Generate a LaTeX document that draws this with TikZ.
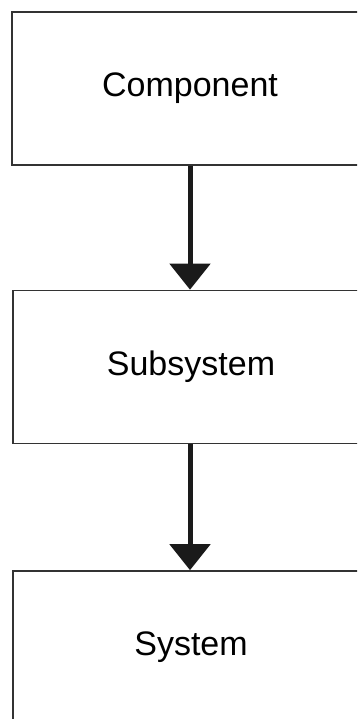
\documentclass[tikz,border=0pt]{standalone}
\usepackage{fontspec}
\setmainfont{Liberation Sans}
\usetikzlibrary{arrows.meta}
\definecolor{boxline}{HTML}{333333}
\definecolor{arrowc}{HTML}{1A1A1A}
\begin{document}
\begin{tikzpicture}[x=1pt,y=1pt,
  stagebox/.style={draw=boxline, line width=1.6pt, rectangle, minimum width=356pt, minimum height=153pt, inner sep=0pt, fill=white,
    font=\fontsize{34}{40}\selectfont},
  flowarrow/.style={draw=arrowc, line width=5pt, -{Triangle[width=40pt,length=26pt]}, fill=arrowc}]
\useasboundingbox (0,0) rectangle (357,-719);
\clip (0,0) rectangle (357,-719);
\node[stagebox] (comp) at (190,-88.5) {Component};
\node[stagebox] (sub) at (191,-367) {Subsystem};
\node[stagebox] (sys) at (191,-647.5) {System};
\draw[flowarrow] (190,-88.5 |- comp.south) -- (190,-367 |- sub.north);
\draw[flowarrow] (190,-367 |- sub.south) -- (190,-647.5 |- sys.north);
\end{tikzpicture}
\end{document}
